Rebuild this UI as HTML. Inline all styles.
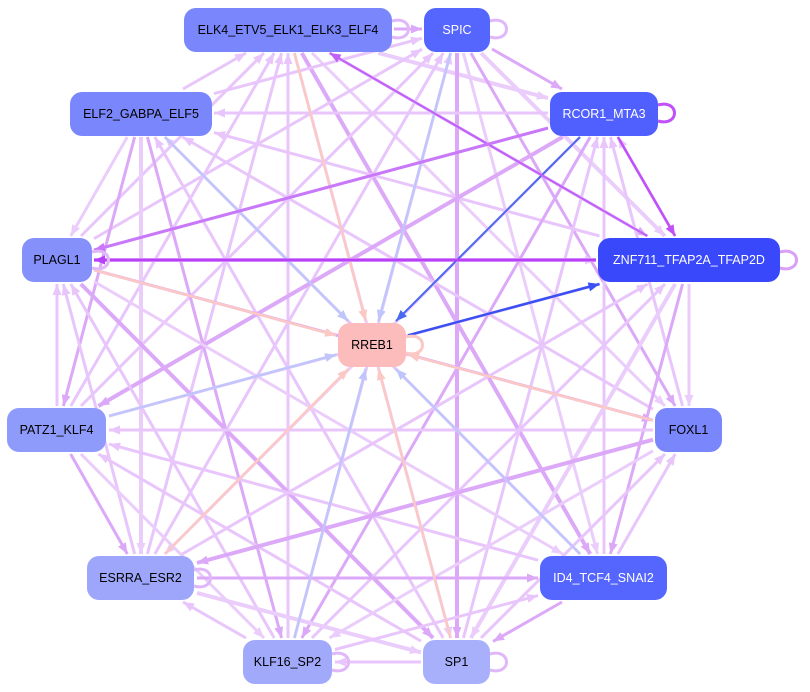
<!DOCTYPE html>
<html><head><meta charset="utf-8"><style>
body{margin:0;background:#fff;width:810px;height:692px;overflow:hidden;position:relative;font-family:"Liberation Sans",sans-serif}
svg{position:absolute;left:0;top:0}
.n{position:absolute;border-radius:12px;display:flex;align-items:center;justify-content:center;font-size:12.5px;color:#000}
.w{color:#fff}
</style></head><body>
<svg id="s" width="810" height="692" viewBox="0 0 810 692"></svg>
<div class="n" style="left:184px;top:8px;width:208px;height:44px;background:#7a86fb">ELK4_ETV5_ELK1_ELK3_ELF4</div>
<div class="n w" style="left:424px;top:8px;width:66px;height:44px;background:#5566ff">SPIC</div>
<div class="n" style="left:70px;top:92px;width:142px;height:44px;background:#7a86fb">ELF2_GABPA_ELF5</div>
<div class="n w" style="left:550px;top:92px;width:108px;height:44px;background:#5060ff">RCOR1_MTA3</div>
<div class="n" style="left:22px;top:238px;width:70px;height:44px;background:#8590fb">PLAGL1</div>
<div class="n w" style="left:598px;top:238px;width:182px;height:44px;background:#3a48fb">ZNF711_TFAP2A_TFAP2D</div>
<div class="n" style="left:338px;top:323px;width:68px;height:44px;background:#fdbcbc">RREB1</div>
<div class="n" style="left:7px;top:408px;width:99px;height:44px;background:#8f9bfb">PATZ1_KLF4</div>
<div class="n" style="left:655px;top:408px;width:67px;height:44px;background:#7a86fb">FOXL1</div>
<div class="n" style="left:87px;top:556px;width:107px;height:44px;background:#9da6fb">ESRRA_ESR2</div>
<div class="n w" style="left:540px;top:556px;width:127px;height:44px;background:#5566ff">ID4_TCF4_SNAI2</div>
<div class="n" style="left:243px;top:640px;width:89px;height:44px;background:#a1a9fb">KLF16_SP2</div>
<div class="n" style="left:423px;top:640px;width:67px;height:44px;background:#a8b0fb">SP1</div>
<script>
var N={ELK:[288,29,104],SPIC:[457,29,33],ELF:[141,113,71],RC:[604,113,54],PL:[57,260,35],ZN:[689,260,91],RR:[372,345,34],PA:[57,430,50],FO:[689,430,34],ES:[141,578,54],ID:[604,578,64],KL:[288,662,45],SP:[457,662,34]};
var k=Object.keys(N).filter(x=>x!='RR');var h='';
function cut(p,q){var dx=q[0]-p[0],dy=q[1]-p[1];var t=Math.min(Math.abs(dx)>0?(p[2]+2)/Math.abs(dx):9,24/Math.abs(dy||1e-6));return [p[0]+dx*t,p[1]+dy*t];}
function L(a,b,c,w,o){var p=N[a],q=N[b];var s=cut(p,q),e=cut(q,p);
h+='<line x1="'+s[0]+'" y1="'+s[1]+'" x2="'+e[0]+'" y2="'+e[1]+'" stroke="'+c+'" stroke-width="'+w+'" opacity="'+(o||1)+'"/>';
var dx=s[0]-e[0],dy=s[1]-e[1],l=Math.hypot(dx,dy);dx/=l;dy/=l;var bx=e[0]+dx*11,by=e[1]+dy*11;
h+='<polygon points="'+e[0]+','+e[1]+' '+(bx-dy*4.5)+','+(by+dx*4.5)+' '+(bx+dy*4.5)+','+(by-dx*4.5)+'" fill="'+c+'"/>';}
var i=0;for(var a=0;a<k.length;a++)for(var b=a+1;b<k.length;b++){i++;if(i%2)L(k[a],k[b],i%4==1?'#dca8f8':'#ebcdfc',i%3==0?4:3);else L(k[b],k[a],'#e8c6fc',3);}
['ELK','ELF','PL','PA','ES','KL','SP','SPIC','FO','ID'].forEach((x,j)=>L(x,'RR',j%2?'#c0c6fb':'#fcc8c4',2.5));
L('RC','RR','#4a68f0',2);L('RR','ZN','#3a50f0',2.5);L('ZN','ELK','#c060f8',2);L('RC','ZN','#c050f8',2.5);L('ZN','PL','#b840f8',3);L('RC','PL','#c878f8',3);
function loop(x,y,c){h+='<path d="M'+x+','+(y-8)+' C'+(x+22)+','+(y-14)+' '+(x+22)+','+(y+14)+' '+x+','+(y+8)+'" fill="none" stroke="'+c+'" stroke-width="3"/>';}
loop(392,29,'#e0b8fa');loop(490,29,'#e0b8fa');loop(658,113,'#c050f8');loop(780,260,'#d8a0f8');loop(92,260,'#e0b8fa');loop(406,345,'#fcc8c4');loop(194,578,'#e0b8fa');loop(490,662,'#e0b8fa');loop(332,662,'#e0b8fa');
document.getElementById('s').innerHTML=h;
</script>
</body></html>
